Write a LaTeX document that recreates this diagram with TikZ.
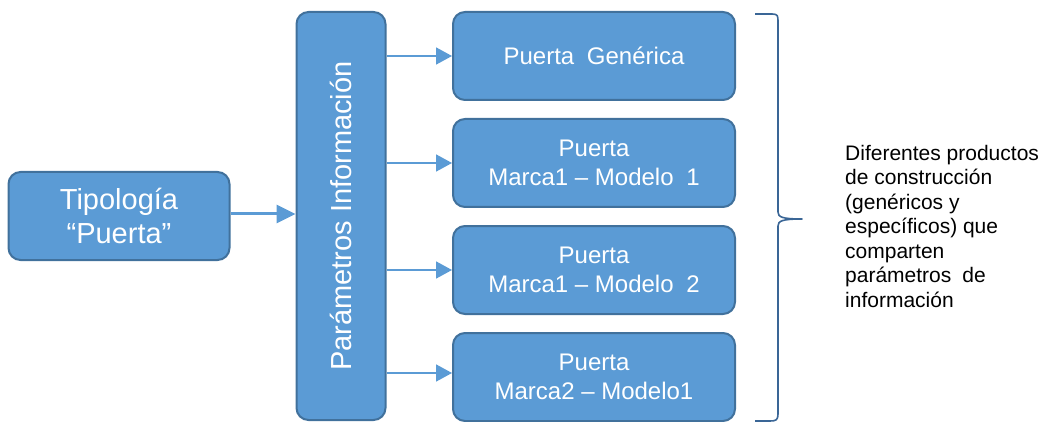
\documentclass[tikz,border=0pt]{standalone}
\usepackage{fontspec}
\setmainfont{Liberation Sans}
\usetikzlibrary{arrows.meta}
\definecolor{boxfill}{HTML}{5B9BD5}
\definecolor{boxline}{HTML}{41719C}
\definecolor{bracecol}{HTML}{3A6696}
\tikzset{
  bluebox/.style={draw=boxline, line width=2pt, fill=boxfill, rounded corners=12pt,
    text=white, align=center, inner sep=0pt},
  prod/.style={bluebox, minimum width=282pt, minimum height=88pt,
    font=\fontsize{24}{29}\selectfont},
  big/.style={bluebox, font=\fontsize{29}{34}\selectfont},
  conn/.style={draw=boxfill, line width=1.6pt, -{Triangle[length=16pt,width=17pt]}},
  thickconn/.style={draw=boxfill, line width=3pt, -{Triangle[length=19pt,width=18pt]}},
  bracestyle/.style={draw=bracecol, line width=1.6pt, line join=round},
  note/.style={anchor=north west, inner sep=0pt, align=left,
    font=\fontsize{21}{24.5}\selectfont, text=black}
}
\begin{document}
\begin{tikzpicture}[x=1pt,y=-1pt]
\useasboundingbox (0,0) rectangle (1049,422);
\node[big, minimum width=221pt, minimum height=88pt] (tip) at (119,216) {Tipología\\“Puerta”};
\node[big, minimum width=89pt, minimum height=408pt] (par) at (341,216)
  {\rotatebox{90}{Parámetros Información}};
\node[prod] (b1) at (594,56) {Puerta\hspace{0.25em} Genérica};
\node[prod] (b2) at (594,163) {Puerta\\Marca1 – Modelo\hspace{0.25em} 1};
\node[prod] (b3) at (594,270) {Puerta\\Marca1 – Modelo\hspace{0.25em} 2};
\node[prod] (b4) at (594,377) {Puerta\\Marca2 – Modelo1};
\draw[thickconn] ([yshift=2pt]tip.east) -- ([yshift=2pt]par.west |- tip.east);
\draw[conn] (par.east |- b1.west) -- (b1.west);
\draw[conn] (par.east |- b2.west) -- (b2.west);
\draw[conn] (par.east |- b3.west) -- (b3.west);
\draw[conn] ([yshift=4pt]par.east |- b4.west) -- ([yshift=4pt]b4.west);
\coordinate (brtop) at (755,14);
\coordinate (brtip) at (802,219);
\coordinate (brbot) at (755,421);
\draw[bracestyle] (brtop) -- (772,14) .. controls (778,14) and (778,16) .. (778,22)
  -- (778,212) .. controls (778,217) and (782,219) .. (brtip)
  .. controls (782,219) and (778,221) .. (778,226)
  -- (778,414) .. controls (778,420) and (776,421) .. (770,421) -- (brbot);
\node[note] (txt) at (845,145) {Diferentes productos\\de construcción\\(genéricos y\\específicos) que\\comparten\\parámetros\hspace{0.25em} de\\información};
\end{tikzpicture}
\end{document}
